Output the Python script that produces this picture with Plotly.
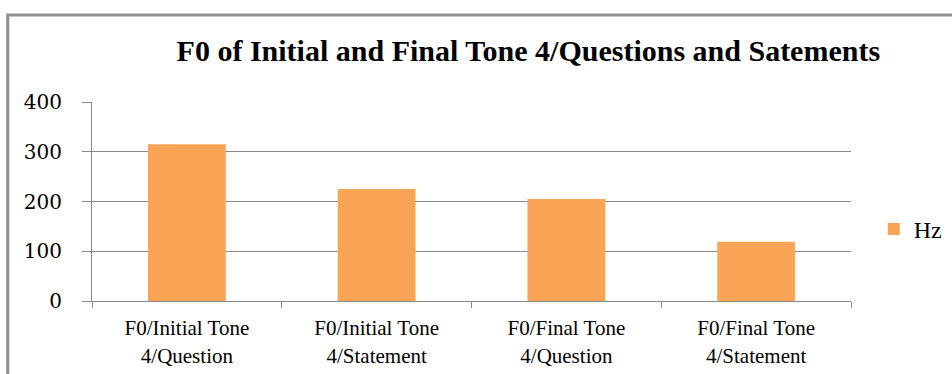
import plotly.graph_objects as go

categories = ["F0/Initial Tone<br>4/Question", "F0/Initial Tone<br>4/Statement",
              "F0/Final Tone<br>4/Question", "F0/Final Tone<br>4/Statement"]
hz_values = [315, 225, 205, 119]
y_ticks = [0, 100, 200, 300, 400]
series_name = "Hz"
title_text = "F0 of Initial and Final Tone 4/Questions and Satements"

fig = go.Figure()
fig.add_trace(go.Bar(
    x=categories, y=hz_values, name=series_name,
    marker=dict(color="#FAA456", line=dict(width=0)),
    width=0.41,
))

fig.update_layout(
    width=952, height=374,
    margin=dict(l=92, r=101, t=102, b=73, autoexpand=False),
    paper_bgcolor="white", plot_bgcolor="white",
    title=dict(text=title_text, x=0.555, xanchor="center", y=0.866, yanchor="middle",
               font=dict(family="Liberation Serif", size=30, color="black", weight="bold")),
    showlegend=True,
    legend=dict(x=1.03, xanchor="left", y=0.36, yanchor="middle",
                font=dict(family="Liberation Serif", size=24, color="black")),
    bargap=0.59,
)
fig.update_yaxes(range=[0, 400], tickvals=y_ticks, showgrid=True, gridcolor="#8a8a8a", gridwidth=1,
                 showline=True, linecolor="#8a8a8a", linewidth=1, ticks="outside", ticklen=9,
                 tickcolor="#8a8a8a", zeroline=False, ticklabelstandoff=16,
                 tickfont=dict(family="DejaVu Serif", size=20, color="black"))
fig.update_xaxes(showline=True, linecolor="#8a8a8a", linewidth=1, ticks="outside", ticklen=6,
                 tickcolor="#8a8a8a", tickson="boundaries", showgrid=False, ticklabelstandoff=8,
                 tickfont=dict(family="Liberation Serif", size=21, color="black"))

fig.add_shape(type="rect", xref="paper", yref="paper", x0=-0.111, x1=1.3, y0=-0.6, y1=1.437,
              line=dict(color="#8f8f8f", width=3), fillcolor="rgba(0,0,0,0)", layer="below")

fig.write_html("out.html")
